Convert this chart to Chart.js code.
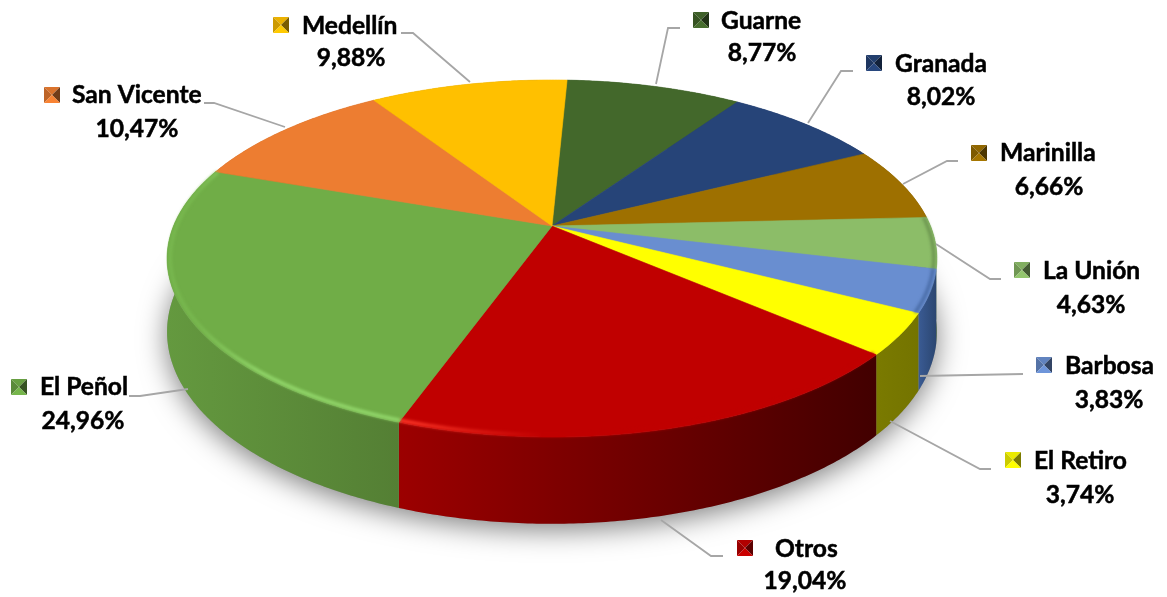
<!DOCTYPE html>
<html lang="es">
<head>
<meta charset="utf-8">
<title>Participación por municipio</title>
<script src="https://cdn.jsdelivr.net/npm/chart.js@4"></script>
<style>
  html, body { margin: 0; padding: 0; background: #fff; }
  #wrap { width: 1167px; height: 597px; }
</style>
</head>
<body>
<div id="wrap"><canvas id="torta" width="1167" height="597"></canvas></div>
<script>
// Datos
const municipios = ['Guarne', 'Granada', 'Marinilla', 'La Unión', 'Barbosa', 'El Retiro', 'Otros', 'El Peñol', 'San Vicente', 'Medellín'];
const porcentajes = [8.77, 8.02, 6.66, 4.63, 3.83, 3.74, 19.04, 24.96, 10.47, 9.88];

// Colores
const coloresCara = ['#43682b', '#264478', '#9e7000', '#8cbd68', '#698ed0', '#ffff00', '#c00000', '#70ad47', '#ed7d31', '#ffc000'];
const coloresLado = [
  ['#2f4a1e', '#2f4a1e'], ['#1b3055', '#1b3055'], ['#705000', '#705000'],
  ['#5f8247', '#4c6a38'], ['#3a5b94', '#2b4670'], ['#7a7a00', '#747400'],
  ['#9c0000', '#420000'], ['#64993f', '#547f34'], ['#a85822', '#a85822'], ['#b58800', '#b58800']
];
const coloresBorde = [null, null, null, '#6d9650', '#4a6da8', null, '#ff3a2a', '#93d86c', null, null];

// Posicion de las etiquetas: [x marcador, y marcador, x nombre, y nombre, x centro %, y %]
const etiquetas = [
  [693, 12, 721, 21, 762, 53],
  [866, 55, 895, 64, 941, 97],
  [971, 145, 1000, 153, 1049, 187],
  [1014, 262, 1043, 271, 1091, 305],
  [1036, 357, 1065, 366, 1109, 400],
  [1005, 452, 1034, 461, 1080, 495],
  [737, 540, 775, 549, 805, 581],
  [11, 379, 40, 387, 83, 421],
  [44, 87, 72, 95, 137, 129],
  [273, 17, 302, 26, 351, 58]
];
// Lineas guia de cada etiqueta
const guias = [
  [[680, 28], [668, 28], [656, 84]],
  [[853, 71], [841, 71], [808, 123]],
  [[958, 161], [947, 161], [903, 184]],
  [[1001, 279], [990, 279], [936, 244]],
  [[1023, 374], [920, 376]],
  [[991, 469], [980, 469], [890, 421]],
  [[723, 556], [711, 556], [661, 520]],
  [[129, 396], [140, 396], [188, 389]],
  [[204, 103], [214, 103], [285, 127]],
  [[401, 33], [413, 33], [470, 82]]
];

// Proyeccion en perspectiva del plano de la torta
const CX = 552, CY = 226, ANCHO = 378.5, ALTO = 172.6, K = 0.182, GROSOR = 71;

function proyectar(angulo, radio, alto) {
  // angulo en radianes como lo entrega Chart.js (0 = derecha, sentido horario)
  const u = Math.cos(angulo) * radio;
  const v = Math.sin(angulo) * radio;
  const d = 1 - K * v;
  return { x: CX + ANCHO * u / d, y: CY + (ALTO * v + alto * GROSOR) / d };
}

function tramo(inicio, fin, radio, alto) {
  const pasos = Math.max(4, Math.ceil((fin - inicio) / 0.01));
  const puntos = [];
  for (let i = 0; i <= pasos; i++) {
    puntos.push(proyectar(inicio + (fin - inicio) * i / pasos, radio, alto));
  }
  return puntos;
}

function tono(hex, f) {
  const n = parseInt(hex.slice(1), 16);
  const c = [n >> 16, (n >> 8) & 255, n & 255].map(v => Math.min(255, Math.round(v * f)));
  return 'rgb(' + c.join(',') + ')';
}

function marcador(ctx, x, y, color) {
  const s = 16, m = 8;
  const caras = [
    [[x, y], [x + s, y], [x + m, y + m], tono(color, 0.92)],
    [[x, y], [x + m, y + m], [x, y + s], tono(color, 0.8)],
    [[x + s, y], [x + s, y + s], [x + m, y + m], tono(color, 0.48)],
    [[x, y + s], [x + s, y + s], [x + m, y + m], tono(color, 1.05)]
  ];
  caras.forEach(c => {
    ctx.fillStyle = c[3];
    ctx.beginPath();
    ctx.moveTo(c[0][0], c[0][1]);
    ctx.lineTo(c[1][0], c[1][1]);
    ctx.lineTo(c[2][0], c[2][1]);
    ctx.closePath();
    ctx.fill();
  });
}

// Dibuja los arcos del grafico con volumen, usando la geometria calculada por Chart.js
const torta3d = {
  id: 'torta3d',
  beforeDatasetsDraw(chart) {
    const ctx = chart.ctx;
    const arcos = chart.getDatasetMeta(0).data;

    // sombra bajo la torta
    ctx.save();
    ctx.shadowColor = 'rgba(0,0,0,0.5)';
    ctx.shadowBlur = 28;
    ctx.shadowOffsetY = 6;
    ctx.fillStyle = '#999';
    ctx.beginPath();
    tramo(0, Math.PI * 2, 1, 1).forEach((p, i) => i ? ctx.lineTo(p.x, p.y) : ctx.moveTo(p.x, p.y));
    ctx.closePath();
    ctx.fill();
    ctx.restore();

    // lados
    arcos.forEach((arco, i) => {
      const arriba = tramo(arco.startAngle, arco.endAngle, 1, 0);
      const abajo = tramo(arco.startAngle, arco.endAngle, 1, 1).reverse();
      const xs = arriba.map(p => p.x);
      const grad = ctx.createLinearGradient(Math.min(...xs), 0, Math.max(...xs), 0);
      grad.addColorStop(0, coloresLado[i][0]);
      grad.addColorStop(1, coloresLado[i][1]);
      ctx.fillStyle = grad;
      ctx.beginPath();
      arriba.concat(abajo).forEach((p, j) => j ? ctx.lineTo(p.x, p.y) : ctx.moveTo(p.x, p.y));
      ctx.closePath();
      ctx.fill();
    });

    // cara superior
    arcos.forEach((arco, i) => {
      ctx.fillStyle = coloresCara[i];
      ctx.strokeStyle = coloresCara[i];
      ctx.lineWidth = 0.6;
      ctx.beginPath();
      ctx.moveTo(CX, CY);
      tramo(arco.startAngle, arco.endAngle, 1, 0).forEach(p => ctx.lineTo(p.x, p.y));
      ctx.closePath();
      ctx.fill();
      ctx.stroke();
    });

    // brillo del borde frontal
    arcos.forEach((arco, i) => {
      if (!coloresBorde[i]) return;
      const puntos = tramo(arco.startAngle, arco.endAngle, 0.992, 0);
      const xs = puntos.map(p => p.x);
      const grad = ctx.createLinearGradient(Math.min(...xs), 0, Math.max(...xs), 0);
      if (i === 6) {
        // Otros: brilla solo cerca del lado izquierdo
        grad.addColorStop(0, coloresBorde[i]);
        grad.addColorStop(0.3, coloresCara[i]);
        grad.addColorStop(1, coloresCara[i]);
      } else if (i === 7) {
        // El Peñol: casi sin brillo en el extremo izquierdo
        grad.addColorStop(0, tono('#78b84f', 1));
        grad.addColorStop(0.12, tono('#78b84f', 1));
        grad.addColorStop(0.4, coloresBorde[i]);
        grad.addColorStop(1, coloresBorde[i]);
      } else {
        grad.addColorStop(0, coloresBorde[i]);
        grad.addColorStop(1, coloresBorde[i]);
      }
      ctx.save();
      ctx.strokeStyle = grad;
      ctx.lineWidth = 3.5;
      ctx.filter = 'blur(1.5px)';
      ctx.beginPath();
      puntos.forEach((p, j) => j ? ctx.lineTo(p.x, p.y) : ctx.moveTo(p.x, p.y));
      ctx.stroke();
      ctx.restore();
    });

    return false; // el arco plano de Chart.js no se pinta
  },
  afterDraw(chart) {
    const ctx = chart.ctx;
    ctx.save();
    // lineas guia
    ctx.strokeStyle = '#a6a6a6';
    ctx.lineWidth = 1.8;
    guias.forEach(g => {
      ctx.beginPath();
      g.forEach((p, i) => i ? ctx.lineTo(p[0], p[1]) : ctx.moveTo(p[0], p[1]));
      ctx.stroke();
    });
    // etiquetas
    ctx.font = 'bold 24.6px Lato, "Open Sans", sans-serif';
    ctx.textBaseline = 'middle';
    ctx.lineWidth = 0.5;
    ctx.strokeStyle = '#000';
    municipios.forEach((nombre, i) => {
      const e = etiquetas[i];
      const pct = porcentajes[i].toFixed(2).replace('.', ',') + '%';
      marcador(ctx, e[0], e[1], coloresCara[i]);
      ctx.fillStyle = '#000';
      ctx.textAlign = 'left';
      ctx.fillText(nombre, e[2], e[3]);
      ctx.strokeText(nombre, e[2], e[3]);
      ctx.textAlign = 'center';
      ctx.fillText(pct, e[4], e[5]);
      ctx.strokeText(pct, e[4], e[5]);
    });
    ctx.restore();
  }
};

new Chart(document.getElementById('torta'), {
  type: 'pie',
  data: {
    labels: municipios,
    datasets: [{ data: porcentajes, backgroundColor: coloresCara, borderWidth: 0 }]
  },
  options: {
    responsive: false,
    animation: false,
    rotation: 2.7,
    plugins: {
      legend: { display: false },
      tooltip: { enabled: false }
    }
  },
  plugins: [torta3d]
});
</script>
</body>
</html>
